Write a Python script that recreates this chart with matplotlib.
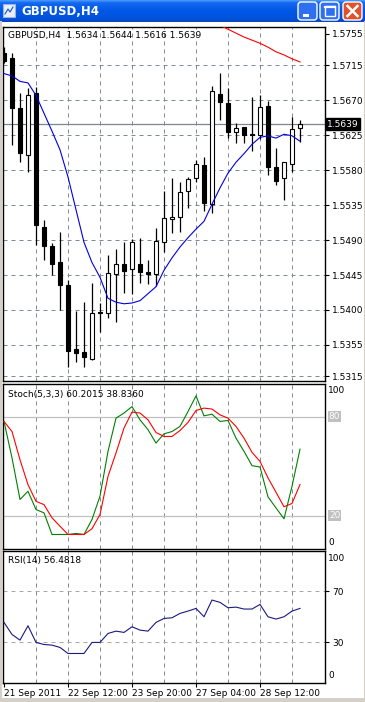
"""
GBPUSD H4 chart (MetaTrader style) with Stochastic and RSI sub-windows
"""

import numpy as np
import matplotlib.pyplot as plt
from matplotlib.patches import Rectangle, FancyBboxPatch
from matplotlib.colors import LinearSegmentedColormap
import matplotlib.transforms as mtransforms

plt.rcParams['font.family'] = ['DejaVu Sans']

# ---- data ----
window_title = 'GBPUSD,H4'
ohlc_label = 'GBPUSD,H4  1.5634 1.5644 1.5616 1.5639'
stoch_label = 'Stoch(5,3,3) 60.2015 38.8360'
rsi_label = 'RSI(14) 56.4818'
last_price = 1.5639

opens = [1.5730, 1.5724, 1.5660, 1.5599, 1.5679, 1.5507, 1.5482, 1.5462, 1.5432, 1.5350,
         1.5346, 1.5337, 1.5397, 1.5396, 1.5446, 1.5459, 1.5453, 1.5459, 1.5449, 1.5446,
         1.5487, 1.5517, 1.5520, 1.5553, 1.5570, 1.5586, 1.5536, 1.5678, 1.5666, 1.5629,
         1.5635, 1.5626, 1.5625, 1.5662, 1.5584, 1.5570, 1.5588, 1.5634]
highs = [1.5738, 1.5730, 1.5679, 1.5685, 1.5687, 1.5516, 1.5486, 1.5500, 1.5439, 1.5399,
         1.5410, 1.5435, 1.5409, 1.5471, 1.5478, 1.5487, 1.5491, 1.5493, 1.5464, 1.5505,
         1.5553, 1.5570, 1.5565, 1.5571, 1.5593, 1.5597, 1.5688, 1.5705, 1.5685, 1.5640,
         1.5635, 1.5674, 1.5676, 1.5669, 1.5608, 1.5590, 1.5648, 1.5644]
lows = [1.5718, 1.5612, 1.5590, 1.5577, 1.5484, 1.5464, 1.5445, 1.5400, 1.5327, 1.5333,
        1.5327, 1.5336, 1.5372, 1.5390, 1.5385, 1.5422, 1.5421, 1.5435, 1.5434, 1.5431,
        1.5475, 1.5499, 1.5500, 1.5531, 1.5565, 1.5527, 1.5525, 1.5644, 1.5621, 1.5615,
        1.5615, 1.5604, 1.5620, 1.5574, 1.5561, 1.5541, 1.5577, 1.5616]
closes = [1.5720, 1.5660, 1.5602, 1.5676, 1.5509, 1.5482, 1.5459, 1.5432, 1.5347, 1.5345,
          1.5340, 1.5396, 1.5396, 1.5448, 1.5459, 1.5450, 1.5487, 1.5449, 1.5446, 1.5489,
          1.5518, 1.5520, 1.5552, 1.5568, 1.5588, 1.5538, 1.5682, 1.5667, 1.5629, 1.5634,
          1.5625, 1.5625, 1.5661, 1.5584, 1.5566, 1.5590, 1.5633, 1.5639]

ma_blue = [1.5704, 1.5701, 1.5694, 1.5692, 1.5676, 1.5653, 1.5630, 1.5606, 1.5571, 1.5529,
           1.5487, 1.5461, 1.5442, 1.5415, 1.5410, 1.5408, 1.5409, 1.5412, 1.5421, 1.5430,
           1.5451, 1.5467, 1.5481, 1.5493, 1.5504, 1.5514, 1.5536, 1.5557, 1.5576, 1.5590,
           1.5601, 1.5613, 1.5622, 1.5624, 1.5621, 1.5626, 1.5624, 1.5617]
# red MA only visible on the last bars (above the window before that)
ma_red = [np.nan] * 27 + [1.5766, 1.5761, 1.5756, 1.5751, 1.5747, 1.5743, 1.5738,
                          1.5732, 1.5728, 1.5723, 1.5719]

stoch_main = [77.0, 54.9, 29.7, 34.7, 23.6, 21.6, 8.5, 8.5, 8.5, 9.1,
              8.5, 17.6, 31.7, 58.9, 79.0, 82.1, 86.0, 78.0, 72.0, 63.9,
              69.5, 70.9, 74.0, 83.0, 92.5, 80.4, 81.4, 77.0, 77.6, 66.9,
              58.9, 50.2, 49.4, 31.3, 24.6, 18.0, 37.7, 60.2]
stoch_signal = [77.0, 70.9, 53.8, 38.7, 28.6, 26.6, 18.6, 13.5, 8.5, 8.5,
                8.5, 12.0, 20.6, 43.7, 57.9, 73.0, 82.7, 82.1, 78.0, 70.3,
                67.9, 67.9, 71.5, 76.4, 83.6, 85.1, 84.5, 81.0, 79.0, 74.0,
                66.9, 58.3, 52.8, 42.8, 34.1, 25.3, 27.3, 38.8]
rsi = [45.6, 36.2, 31.8, 43.0, 30.0, 28.4, 27.9, 26.1, 21.4, 21.4,
       21.4, 30.0, 30.0, 37.0, 38.8, 37.8, 42.2, 39.6, 38.8, 45.6,
       48.7, 49.2, 52.6, 54.4, 56.5, 50.0, 63.0, 61.2, 57.0, 57.5,
       56.0, 56.0, 59.6, 50.0, 48.2, 50.0, 54.4, 56.5]

price_ticks = [1.5755, 1.5715, 1.5670, 1.5625, 1.5580, 1.5535, 1.5490, 1.5445, 1.5400, 1.5355, 1.5315]
date_pos = [0, 8, 16, 24, 32]
date_labels = ['21 Sep 2011', '22 Sep 12:00', '23 Sep 20:00', '27 Sep 04:00', '28 Sep 12:00']

# ---- figure ----
W, H = 365, 702
fig = plt.figure(figsize=(W / 100, H / 100), dpi=100, facecolor='white')

# overlay for window chrome (pixel coordinates)
ov = fig.add_axes([0, 0, 1, 1])
ov.set_xlim(0, W)
ov.set_ylim(H, 0)
ov.axis('off')
xp = LinearSegmentedColormap.from_list('xp', [(0, '#4A9BFF'), (0.12, '#1468F0'), (0.5, '#0058E6'),
                                              (0.85, '#0052DC'), (1, '#0A46BE')])
ov.imshow(np.linspace(0, 1, 60).reshape(-1, 1), cmap=xp, extent=[0, W, 22, 0], aspect='auto', zorder=1)
ov.text(21, 11.5, window_title, color='white', fontsize=8.5, fontweight='bold', va='center', ha='left', zorder=3)
# small icon
ov.add_patch(Rectangle((3, 4), 12, 13, facecolor='#E8F0FF', edgecolor='#9AB4E0', lw=0.8, zorder=3))
ov.plot([5, 8, 10, 13], [14, 9, 12, 7], color='#2050C0', lw=0.8, zorder=4)
# buttons
for x0, fc in [(298, '#2F6FF2'), (320, '#2F6FF2'), (343, '#E0522E')]:
    ov.add_patch(FancyBboxPatch((x0, 2), 19, 18, boxstyle='round,pad=0,rounding_size=3',
                                facecolor=fc, edgecolor='white', lw=1, zorder=3))
ov.add_patch(Rectangle((302.5, 14), 6, 2.5, facecolor='white', edgecolor='none', zorder=4))
ov.add_patch(Rectangle((324.5, 6), 10, 10, facecolor='none', edgecolor='white', lw=1, zorder=4))
ov.plot([324.5, 334.5], [6.8, 6.8], color='white', lw=1.6, zorder=4)
ov.plot([347.5, 357.5], [6, 16], color='white', lw=1.8, zorder=4)
ov.plot([347.5, 357.5], [16, 6], color='white', lw=1.8, zorder=4)
# window border
ov.plot([0.5, 0.5], [22, H], color='#D4D0C8', lw=1.5)
ov.plot([W - 0.5, W - 0.5], [22, H], color='#D4D0C8', lw=1.5)
ov.add_patch(Rectangle((0, 698), W, 4, facecolor='#D4D0C8', edgecolor='none'))


def px_axes(x0, y0, x1, y1):
    return fig.add_axes([x0 / W, 1 - y1 / H, (x1 - x0) / W, (y1 - y0) / H])


ax1 = px_axes(3, 27, 325, 381)
ax2 = px_axes(3, 383.5, 325, 548.5)
ax3 = px_axes(3, 551, 325, 682.5)

n = len(closes)
xs = np.arange(n)
grid_color = '#7C8A99'
grid_ls = (0, (4, 4))
px = 0.72  # one pixel in points

for ax in (ax1, ax2, ax3):
    ax.set_facecolor('white')
    ax.set_xlim(-0.125, 40.125)
    for s in ax.spines.values():
        s.set_color('black')
        s.set_linewidth(1)
    for gx in range(4, 40, 4):
        ax.axvline(gx, color=grid_color, ls=grid_ls, lw=px, zorder=1)
    ax.yaxis.tick_right()
    ax.tick_params(axis='both', labelsize=6.5, length=3, width=0.8, pad=2, direction='out', colors='black')

# ---- main price window ----
ax1.set_ylim(1.53087, 1.57639)
for p in price_ticks[1:]:
    ax1.axhline(p, color=grid_color, ls=grid_ls, lw=px, zorder=1)
ax1.set_yticks(price_ticks)
ax1.set_yticklabels([f'{p:.4f}' for p in price_ticks])
ax1.set_xticks([])
ax1.axhline(last_price, color='#7B8794', lw=0.9, zorder=2)

body_w = 0.6
for i in range(n):
    o, h, l, c = opens[i], highs[i], lows[i], closes[i]
    ax1.plot([i, i], [l, h], color='black', lw=0.9, zorder=3, solid_capstyle='butt')
    lo, hi = min(o, c), max(o, c)
    if hi - lo < 0.00005:
        ax1.plot([i - body_w / 2, i + body_w / 2], [o, o], color='black', lw=1.1, zorder=4)
    else:
        ax1.add_patch(Rectangle((i - body_w / 2, lo), body_w, hi - lo,
                                facecolor='white' if c > o else 'black',
                                edgecolor='black', lw=0.8, zorder=4))

ax1.plot(xs, ma_blue, color='#0000DD', lw=0.8, zorder=5)
ax1.plot(xs, ma_red, color='#FF0000', lw=0.8, zorder=5)

ax1.text(0.0155, 0.9754, ohlc_label, transform=ax1.transAxes, fontsize=6.5, va='center', ha='left')
trans1 = mtransforms.blended_transform_factory(ax1.transAxes, ax1.transData)
ax1.text(1.006, last_price, f'{last_price:.4f}', transform=trans1, fontsize=6.5, color='white',
         va='center', ha='left', zorder=10,
         bbox=dict(boxstyle='square,pad=0.15', facecolor='black', edgecolor='black'))

# ---- stochastic ----
ax2.set_ylim(0, 100)
ax2.set_yticks([])
ax2.set_xticks([])
for lvl in (80, 20):
    ax2.axhline(lvl, color='#C0C0C0', lw=0.9, zorder=1)
ax2.plot(xs, stoch_main, color='#008000', lw=0.8, zorder=3)
ax2.plot(xs, stoch_signal, color='#FF0000', lw=0.8, zorder=3)
ax2.text(0.0155, 0.936, stoch_label, transform=ax2.transAxes, fontsize=6.5, va='center', ha='left')
trans2 = mtransforms.blended_transform_factory(ax2.transAxes, ax2.transData)
ax2.text(1.01, 98.5, '100', transform=trans2, fontsize=6.5, va='top', ha='left')
ax2.text(1.01, 1.0, '0', transform=trans2, fontsize=6.5, va='bottom', ha='left')
for lvl in (80, 20):
    ax2.text(1.012, lvl, str(lvl), transform=trans2, fontsize=6.5, va='center', ha='left', color='white',
             bbox=dict(boxstyle='square,pad=0.1', facecolor='#C0C0C0', edgecolor='none'))

# ---- RSI ----
ax3.set_ylim(-1.2, 101.2)
for lvl in (70, 30):
    ax3.axhline(lvl, color='#A8A8A8', ls=grid_ls, lw=px, zorder=1)
ax3.plot(xs, rsi, color='#1A1A80', lw=0.8, zorder=3)
ax3.set_yticks([70, 30])
ax3.set_yticklabels(['70', '30'])
ax3.text(0.0155, 0.924, rsi_label, transform=ax3.transAxes, fontsize=6.5, va='center', ha='left')
trans3 = mtransforms.blended_transform_factory(ax3.transAxes, ax3.transData)
ax3.text(1.01, 98.5, '100', transform=trans3, fontsize=6.5, va='top', ha='left')
ax3.text(1.01, 0.5, '0', transform=trans3, fontsize=6.5, va='bottom', ha='left')
ax3.set_xticks(date_pos)
ax3.set_xticklabels(date_labels, ha='left')

fig.savefig('out.png', dpi=100, facecolor='white')
